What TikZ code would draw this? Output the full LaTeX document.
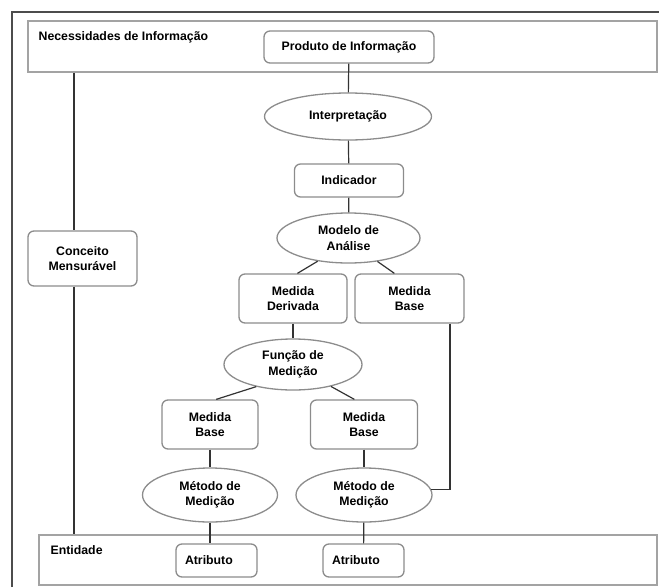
\documentclass[tikz,border=0pt]{standalone}
\usepackage{fontspec}
\setmainfont{Liberation Sans}
\usetikzlibrary{shapes.geometric}

\definecolor{edge}{HTML}{8C8C8C}
\definecolor{wire}{HTML}{333333}

\begin{document}
\begin{tikzpicture}[x=1pt, y=-1pt,
  every node/.style={font=\bfseries\fontsize{12.3}{15.5}\selectfont, align=center, draw=edge, line width=1.3pt},
  box/.style={rectangle, rounded corners=6pt},
  oval/.style={ellipse, inner sep=0pt},
  band/.style={rectangle, draw=edge!80, line width=1.8pt},
  lbl/.style={draw=none, anchor=north west, inner sep=0pt},
  link/.style={draw=wire, line width=1.2pt}]
  \useasboundingbox (0,0) rectangle (659,587);
  \draw[black!70, line width=1.5pt] (12,587) -- (12,12) -- (659,12);
  % top and bottom bands
  \node[band, minimum width=629pt, minimum height=51pt] (needs) at (342.5,46.5) {};
  \node[lbl] at (38,30.5) {Necessidades de Informação};
  \node[band, minimum width=618pt, minimum height=50pt] (ent) at (348,560) {};
  \node[lbl] at (50,545) {Entidade};
  % chain
  \node[box, minimum width=170pt, minimum height=32pt] (prod) at (349,47) {Produto de Informação};
  \node[oval, minimum width=167pt, minimum height=47pt] (interp) at (348,116.5) {Interpretação};
  \node[box, minimum width=109pt, minimum height=33pt] (ind) at (349,180.5) {Indicador};
  \node[oval, minimum width=143pt, minimum height=50pt] (model) at (348.5,238) {Modelo de\\Análise};
  \node[box, minimum width=108pt, minimum height=49pt] (deriv) at (293,298.5) {Medida\\Derivada};
  \node[box, minimum width=109pt, minimum height=49pt] (baseA) at (409.5,298.5) {Medida\\Base};
  \node[oval, minimum width=138pt, minimum height=51pt] (func) at (293,364.5) {Função de\\Medição};
  \node[box, minimum width=96pt, minimum height=49pt] (baseB) at (210,424.5) {Medida\\Base};
  \node[box, minimum width=107pt, minimum height=49pt] (baseC) at (364,424.5) {Medida\\Base};
  \node[oval, minimum width=135pt, minimum height=54pt] (methB) at (210,495) {Método de\\Medição};
  \node[oval, minimum width=136pt, minimum height=54pt] (methC) at (364,495) {Método de\\Medição};
  \node[box, minimum height=33pt, text width=63pt, inner xsep=9pt, align=left] (attrB) at (216.5,560.5) {Atributo};
  \node[box, minimum height=33pt, text width=63pt, inner xsep=9pt, align=left] (attrC) at (363.5,560.5) {Atributo};
  \node[box, minimum width=109pt, minimum height=55pt] (concept) at (82.5,258.5) {Conceito\\Mensurável};
  \coordinate (lft) at (74,0);

  \draw[link] (prod) -- (interp);
  \draw[link] (interp) -- (ind);
  \draw[link] (ind) -- (model);
  \draw[link] (model.217) -- (deriv.80);
  \draw[link] (model.321) -- (baseA.121);
  \draw[link] (deriv) -- (func);
  \draw[link] (func.211) -- (baseB.76);
  \draw[link] (func.330) -- (baseC.111);
  \draw[link] (baseB) -- (methB);
  \draw[link] (baseC) -- (methC);
  \draw[link] (methB) -- (methB |- attrB.north);
  \draw[link] (methC) -- (attrC);
  \draw[link] ([xshift=40.5pt]baseA.south) |- (methC.5);
  \draw[link] (needs.south -| lft) -- (lft |- concept.north);
  \draw[link] (lft |- concept.south) -- (lft |- ent.north);
\end{tikzpicture}
\end{document}
